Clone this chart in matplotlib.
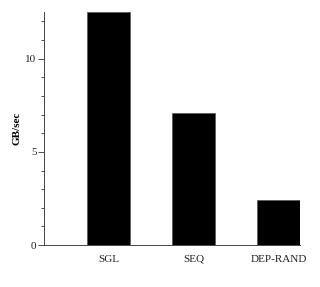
import numpy as np
import matplotlib.pyplot as plt
from matplotlib.ticker import MultipleLocator

categories = ['SGL', 'SEQ', 'DEP-RAND']
gbps = [12.5, 7.1, 2.42]

plt.rcParams['font.family'] = ['Liberation Serif', 'DejaVu Serif']

fig = plt.figure(figsize=(3.2, 2.87), dpi=100)
ax = fig.add_axes([0.1375, 0.146, 0.8, 0.812])

x = np.arange(1, len(categories) + 1)
ax.bar(x, gbps, width=0.5, color='black', edgecolor='#555555', linewidth=0.5)

ax.set_xlim(0.244, 3.25)
ax.set_ylim(0, 12.5)
ax.set_xticks(x)
ax.set_xticklabels(categories, fontsize=8, color='#222222')
ax.tick_params(axis='x', length=0, pad=7)

ax.yaxis.set_major_locator(MultipleLocator(5))
ax.yaxis.set_minor_locator(MultipleLocator(1))
ax.tick_params(axis='y', which='major', length=4, width=0.6, labelsize=8,
               colors='#333333', labelcolor='#222222', pad=1.5)
ax.tick_params(axis='y', which='minor', length=2.5, width=0.6, colors='#333333')
ax.set_ylabel('GB/sec', fontsize=8, fontweight='bold', labelpad=3)

for s in ['top', 'right']:
    ax.spines[s].set_visible(False)
for s in ['left', 'bottom']:
    ax.spines[s].set_linewidth(0.7)
    ax.spines[s].set_color('#444444')

fig.savefig('out.png', dpi=100)
